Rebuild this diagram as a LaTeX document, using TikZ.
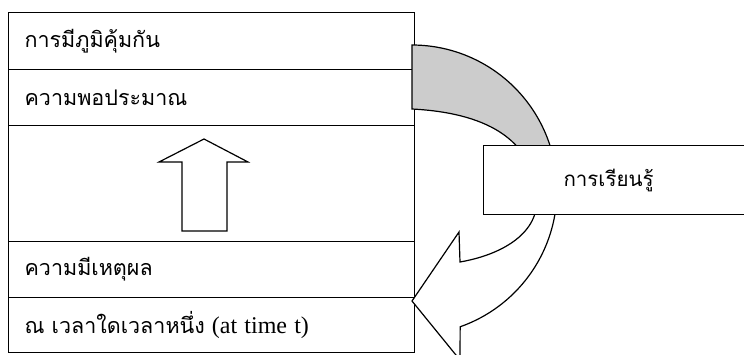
\documentclass[tikz,border=0pt]{standalone}
\usepackage{fontspec}
\setmainfont{Liberation Serif}
\newfontfamily\thai[Script=Thai]{Loma}
\begin{document}
\begin{tikzpicture}[x=1pt,y=-1pt,
  line width=1.1pt,
  rowbox/.style={draw, anchor=north west, minimum width=406pt, text width=374pt,
    inner xsep=16pt, inner ysep=0pt, align=left, font=\fontsize{21.5}{24}\selectfont},
  shapeline/.style={draw=black, line width=1.2pt, line join=miter},
]
\useasboundingbox (0,0) rectangle (744,354);
\clip (0,0) rectangle (744,354);
% left stack
\node[rowbox, minimum height=57pt] (r1) at (8,12) {\thai การมีภูมิคุ้มกัน};
\node[rowbox, minimum height=56pt] (r2) at (8,69) {\thai ความพอประมาณ};
\node[rowbox, minimum height=116pt] (r3) at (8,125) {};
\node[rowbox, minimum height=56pt] (r4) at (8,241) {\thai ความมีเหตุผล};
\node[rowbox, minimum height=55pt] (r5) at (8,297) {{\thai ณ เวลาใดเวลาหนึ่ง} {\fontsize{24}{26}\selectfont(at time t)}};
% up arrow
\draw[shapeline] (204,139) -- (248,162) -- (227,162) -- (227,231) -- (182,231) -- (182,162) -- (159,162) -- cycle;
% grey part of the circular arrow
\fill[gray!40] (412,45) -- plot[domain=-90:0, samples=60] ({412+145*cos(\x)},{190+145*sin(\x)})
  -- (537,200) .. controls (535,130) and (470,112) .. (412,109) -- cycle;
\draw[shapeline] (412,45) -- plot[domain=-90:0, samples=60] ({412+145*cos(\x)},{190+145*sin(\x)})
  -- (537,200) .. controls (535,130) and (470,112) .. (412,109) -- cycle;
% white arrow part
\draw[shapeline, fill=white] (557,190) -- plot[domain=0:70.6, samples=50] ({412+145*cos(\x)},{190+145*sin(\x)})
  -- (460,360) -- (412,301) -- (459,232) -- (460,262)
  .. controls (500,255) and (537,235) .. (537,200) -- cycle;
% learning box
\node[draw, fill=white, anchor=north west, minimum height=69pt, text width=183pt,
  inner xsep=80pt, inner ysep=0pt, align=left, font=\fontsize{20.5}{23}\selectfont] (learn) at (483,145) {\thai การเรียนรู้};
\end{tikzpicture}
\end{document}
